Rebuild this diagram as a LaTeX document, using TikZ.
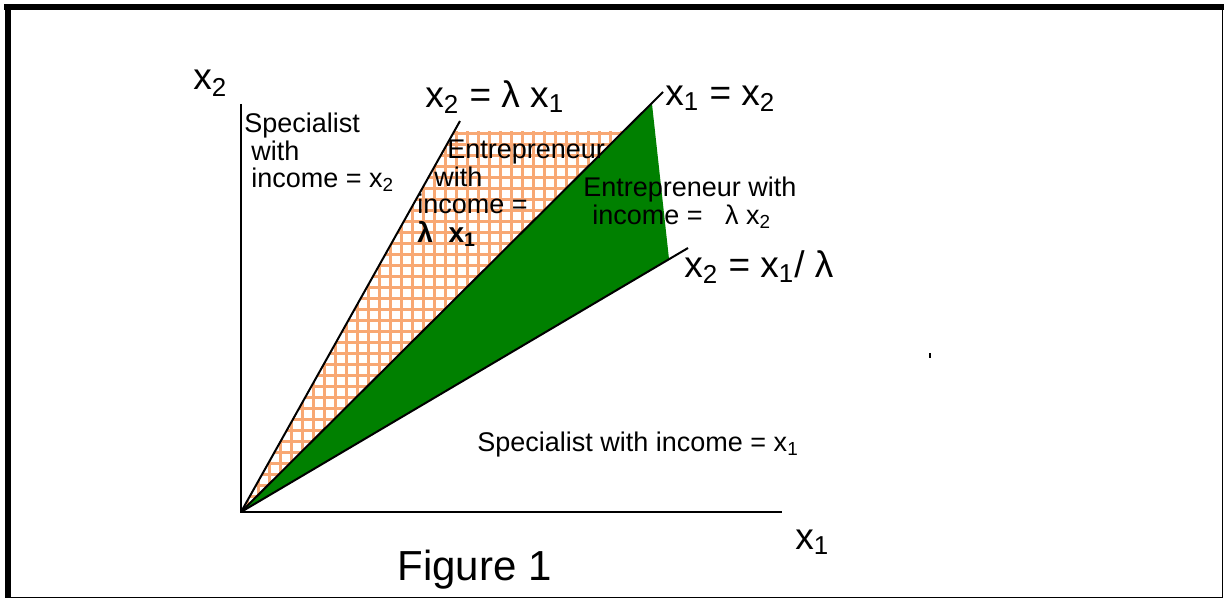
\documentclass[tikz,border=0pt]{standalone}
\usepackage{fontspec}
\setmainfont{Liberation Sans}
\definecolor{hatch}{RGB}{248,168,116}
\definecolor{wedge}{RGB}{0,128,0}
\tikzset{
  lbl/.style={anchor=base west, inner sep=0pt, font=\fontsize{13.5}{15}\selectfont},
  biglbl/.style={anchor=base west, inner sep=0pt, font=\fontsize{18.5}{20}\selectfont},
  ray/.style={line width=1pt, black},
  axis/.style={line width=1pt, black}
}
\begin{document}
\begin{tikzpicture}[x=0.5pt,y=-0.5pt]
\useasboundingbox (0,0) rectangle (1224,599);
% frame
\fill[black] (4,4) rectangle (1224,10);
\fill[black] (5,4) rectangle (11,598);
\draw[line width=0.8pt] (11,597.5) -- (1222.5,597.5) -- (1222.5,10);
\fill[black] (929,353) rectangle (931,358);

\coordinate (O) at (241,512);
\coordinate (Ytop) at (241,104);
\coordinate (Xend) at (782,512);
\coordinate (Ltop) at (460,121);
\coordinate (Mtop) at (663,92);
\coordinate (Rtop) at (688,248);

% orange cross-hatched region
\begin{scope}
\clip (O) -- (454,131) -- (624,131) -- cycle;
\foreach \i in {0,...,45} {
  \draw[hatch, line width=1.5pt] (236+\i*11,120) -- (236+\i*11,520);
  \draw[hatch, line width=1.5pt] (230,133+\i*11) -- (680,133+\i*11);
}
\end{scope}
% green region
\fill[wedge] (O) -- (652,104) -- (669,259) -- cycle;

% rays and axes
\draw[axis] (Ytop) -- (O) -- (Xend);
\draw[ray] (O) -- (Ltop);
\draw[ray] (O) -- (Mtop);
\draw[ray] (O) -- (Rtop);

% labels
\node[biglbl] (ax2) at (193,90) {x\textsubscript{2}};
\node[biglbl] (ax1) at (795,549) {x\textsubscript{1}};
\node[biglbl] (lL) at (425,107) {x\textsubscript{2} = λ x\textsubscript{1}};
\node[biglbl] (lM) at (665,105) {x\textsubscript{1} = x\textsubscript{2}};
\node[biglbl] (lR) at (684,277) {x\textsubscript{2} = x\textsubscript{1}/ λ};

\node[lbl] (s2a) at (244,133) {Specialist};
\node[lbl] (s2b) at (251,160) {with};
\node[lbl] (s2c) at (251,187) {income = x\textsubscript{2}};

\node[lbl] (e1a) at (447,158) {Entrepreneur};
\node[lbl] (e1b) at (434,186) {with};
\node[lbl] (e1c) at (417,213) {income =};
\node[lbl,font=\fontsize{14}{15}\selectfont\bfseries] (e1d) at (417,242) {λ\ \ x\textsubscript{1}};

\node[lbl] (e2a) at (583,196) {Entrepreneur with};
\node[lbl] (e2b) at (592,224) {income =\ \ \ λ x\textsubscript{2}};

\node[lbl] (s1) at (477,451) {Specialist with income = x\textsubscript{1}};

\node[anchor=base west, inner sep=0pt, font=\fontsize{21}{23}\selectfont] (fig) at (397,580) {Figure 1};
\end{tikzpicture}
\end{document}
